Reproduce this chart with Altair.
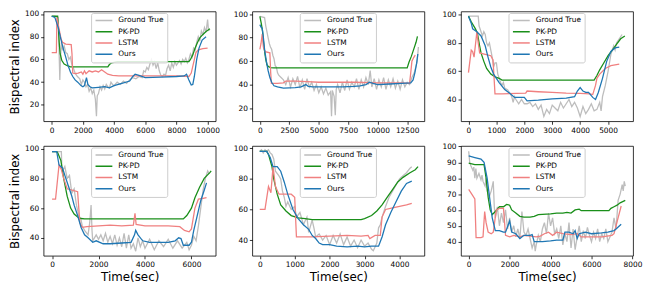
import altair as alt
import pandas as pd

NAMES = ["Ground True", "PK-PD", "LSTM", "Ours"]
COLORS = ["#bdbdbd", "#1a8f1a", "#f08080", "#1f77b4"]

# ---------------- panel 1 ----------------
P1_GT = [(0,98),(200,98),(400,97),(450,80),(520,42),(560,60),(620,75),(700,68),(800,72),(900,66),(1000,65),(1100,60),(1200,62),(1300,55),(1400,52),(1500,48),(1650,45),(1800,43),(1900,38),(2000,42),(2100,40),(2200,36),(2300,38),(2400,32),(2500,35),(2600,30),(2700,33),(2800,25),(2870,10),(2920,28),(3000,30),(3100,36),(3200,33),(3300,37),(3400,34),(3500,38),(3600,36),(3700,35),(3800,40),(3900,38),(4000,37),(4200,40),(4400,38),(4600,41),(4800,39),(5000,42),(5200,44),(5400,43),(5600,45),(5800,44),(5900,50),(6000,49),(6100,53),(6200,51),(6300,56),(6400,60),(6500,55),(6600,58),(6700,52),(6800,57),(6900,50),(7000,46),(7100,45),(7200,47),(7300,46),(7400,52),(7500,55),(7600,50),(7700,57),(7800,53),(7900,58),(8000,55),(8100,57),(8200,59),(8300,56),(8400,60),(8500,58),(8600,61),(8700,57),(8800,60),(8900,65),(9000,62),(9100,70),(9200,68),(9300,75),(9400,80),(9500,76),(9600,85),(9700,82),(9800,88),(9900,84),(10000,95),(10050,87),(10100,85)]
P1_PK = [(0,98),(380,98),(420,90),(480,75),(540,65),(650,59),(800,56),(1000,54.5),(1200,53.5),(3600,53.5),(3700,55.5),(3850,57),(4200,58),(8800,58),(8900,60),(9050,64),(9200,70),(9350,75),(9500,79),(9700,82),(9900,84.5),(10150,87)]
P1_LSTM = [(0,66),(300,66),(330,97),(400,92),(500,85),(600,78),(700,75),(900,73.5),(1250,73),(1300,65),(1350,48),(1500,47.5),(1700,48),(1900,49),(2000,47),(2100,50),(2200,47.5),(2400,50),(2600,49),(2800,50),(3000,49),(3200,51),(3400,49),(3600,47),(3900,46),(4300,45.5),(6000,45.5),(8000,45.5),(8800,45),(8950,48),(9100,57),(9250,66),(9400,68.5),(9700,69.5),(10000,70)]
P1_OURS = [(0,98),(200,97),(420,88),(550,80),(730,70),(900,62),(1040,55),(1200,49),(1350,45),(1500,42),(1670,40),(1875,37),(2000,36),(2100,37),(2230,44),(2320,38),(2450,36),(2600,35),(3000,35.5),(3400,36),(3700,35),(4000,37),(4500,39),(5000,41),(5200,45),(5350,47),(5600,46),(6000,44),(7000,44.5),(8000,45),(8500,45.5),(8650,47),(8800,42),(8950,37.5),(9050,38),(9150,45),(9300,60),(9450,70),(9650,77),(9900,80)]

# ---------------- panel 2 ----------------
P2_GT = [(0,98),(400,97),(500,90),(600,85),(700,80),(800,75),(900,72),(1000,70),(1100,65),(1200,62),(1300,56),(1400,55),(1500,50),(1600,48),(1800,46),(2000,44),(2200,40),(2400,46),(2600,38),(2800,45),(3000,40),(3200,47),(3400,37),(3600,44),(3800,36),(4000,45),(4200,38),(4400,42),(4600,35),(4800,40),(5000,33),(5200,38),(5400,32),(5600,37),(5800,31),(6000,34),(6080,13),(6150,35),(6300,30),(6400,14),(6480,36),(6600,40),(6800,33),(7000,42),(7200,35),(7400,44),(7600,36),(7800,42),(8000,38),(8200,45),(8400,36),(8600,44),(8800,38),(9000,46),(9200,40),(9360,52),(9500,38),(9700,45),(9900,36),(10100,44),(10300,38),(10500,46),(10700,36),(10900,44),(11100,38),(11300,45),(11500,37),(11700,43),(11900,36),(12100,44),(12300,38),(12500,42),(12700,40),(12900,46),(13100,50),(13250,56),(13350,60),(13450,72)]
P2_PK = [(0,98),(120,92),(220,86),(350,72),(490,62),(600,57),(710,55.5),(900,54.5),(1200,54.2),(12500,54.2),(12650,59),(12850,64),(13050,70),(13250,76),(13370,81)]
P2_LSTM = [(0,70),(100,75),(200,83),(300,72),(450,68),(850,67),(920,50),(980,41),(1500,41),(2000,41.5),(2200,43),(3000,43),(4000,42.5),(5000,42),(8000,42),(10000,41.5),(12000,41.5),(12700,41),(12800,50),(12900,60),(13050,63),(13180,65)]
P2_OURS = [(0,91),(100,89),(200,88),(300,80),(400,70),(550,60),(700,52),(850,46),(1000,42),(1200,39),(1500,38),(2000,37),(3000,37.5),(3500,38),(3900,40),(4100,38.5),(4500,38),(6000,38),(7000,38),(8000,38.5),(8500,39),(9000,40),(9300,42),(9600,41),(10000,40),(11000,40.5),(12000,41),(12800,41.5),(13000,44),(13150,50),(13300,58),(13400,66)]

# ---------------- panel 3 ----------------
P3_GT = [(0,99),(350,99),(380,92),(450,88),(500,85),(550,88),(600,86),(650,80),(700,78),(750,80),(800,75),(850,70),(900,63),(950,66),(1000,66),(1050,58),(1100,55),(1150,52),(1200,50),(1250,52),(1300,48),(1400,47),(1500,44),(1550,42),(1600,38),(1650,42),(1700,40),(1800,37),(1900,40),(2000,37),(2100,37),(2200,38),(2300,35),(2400,37),(2500,33),(2600,36),(2700,28),(2800,33),(2900,30),(3000,36),(3100,34),(3200,32),(3300,38),(3400,34),(3500,37),(3600,40),(3700,35),(3800,38),(3900,34),(4000,28),(4100,35),(4200,30),(4300,33),(4400,37),(4500,32),(4600,33),(4700,38),(4750,32),(4800,42),(4900,50),(5000,60),(5100,72),(5200,78),(5250,75),(5300,80),(5400,83),(5500,86)]
P3_PK = [(0,99),(100,95),(250,90),(320,87),(400,78),(450,73),(550,67),(650,62),(800,58),(950,56),(1100,55),(1200,53.7),(4500,53.7),(4600,57),(4700,61),(4850,66),(5000,71),(5150,75),(5300,79),(5450,83),(5600,85)]
P3_LSTM = [(0,59),(100,75),(150,74),(200,70),(280,84),(300,88),(350,80),(400,73),(600,72),(800,71),(880,68),(950,44),(1200,44),(2050,44.5),(2100,46),(2500,45.5),(3000,45),(3500,44.5),(4000,44.3),(4350,44),(4450,43.5),(4550,50),(4600,55),(4700,58),(4900,62),(5100,64),(5400,65)]
P3_OURS = [(0,99),(100,94),(150,90),(300,88),(450,85),(600,78),(700,70),(800,63),(900,58),(1100,52),(1300,47),(1500,44),(1650,41.5),(2000,41.5),(2100,39),(2500,39.5),(3000,40.5),(3500,41),(3800,42),(3900,46),(4000,48.5),(4100,46),(4200,45),(4300,45),(4450,41.5),(4550,40),(4650,45),(4800,55),(4950,67),(5100,74),(5250,76.5),(5400,77)]

# ---------------- panel 4 ----------------
P4_GT = [(0,98),(400,98),(420,88),(450,85),(550,88),(650,80),(750,82),(850,70),(950,73),(1050,62),(1150,55),(1250,52),(1300,48),(1400,45),(1550,42),(1620,50),(1680,62),(1720,45),(1750,38),(1900,42),(2000,39),(2100,42),(2200,38),(2300,43),(2400,37),(2500,41),(2600,36),(2700,42),(2800,35),(2900,40),(3000,34),(3100,43),(3200,33),(3300,42),(3400,33),(3500,36),(3600,31),(3700,40),(3800,34),(3900,38),(4000,33),(4200,39),(4400,32),(4600,38),(4800,34),(5000,39),(5200,33),(5400,38),(5600,33),(5800,37),(5900,32),(6000,35),(6100,41),(6200,38),(6300,48),(6400,60),(6500,72),(6600,80),(6700,85),(6770,83)]
P4_PK = [(0,98),(200,98),(250,97),(380,92),(500,80),(650,68),(800,60),(950,56),(1100,54),(1250,53),(1400,52.7),(5650,52.7),(5800,55),(6000,60),(6150,67),(6350,74),(6550,80),(6800,84),(6850,85)]
P4_LSTM = [(0,66),(150,66),(300,89),(400,86),(500,80),(650,73),(900,72),(1100,71),(1150,60),(1200,50),(1300,47),(1500,47.5),(2000,48),(2500,48.5),(3000,48),(3500,48.5),(3570,56.5),(3620,49),(4000,48),(5000,48),(5500,47.5),(5700,45),(5900,44),(6000,46),(6150,60),(6300,66),(6500,66.5),(6650,67)]
P4_OURS = [(0,98),(200,98),(300,89),(450,87),(550,82),(700,75),(850,68),(950,62),(1100,55),(1250,47),(1400,42),(1550,40),(1750,37),(1900,38),(2200,36),(2500,36),(3000,36.5),(3400,37),(3550,42),(3600,45),(3700,42),(3900,38),(4200,37),(5000,37),(5300,38),(5450,40),(5550,39.5),(5650,35),(5900,35),(6000,37),(6100,45),(6250,55),(6400,65),(6550,72),(6650,77)]

# ---------------- panel 5 ----------------
P5_GT = [(0,98),(50,99),(100,97),(150,99),(200,98),(250,99),(300,97),(350,96),(400,93),(450,85),(550,82),(600,80),(650,72),(700,68),(750,62),(800,65),(900,60),(1000,62),(1050,55),(1150,58),(1250,50),(1350,55),(1400,45),(1500,53),(1550,48),(1600,42),(1700,44),(1800,40),(1900,43),(2000,37),(2100,43),(2200,38),(2300,44),(2400,37),(2500,42),(2600,36),(2700,40),(2800,35),(2900,40),(3000,36),(3100,38),(3200,34),(3250,33),(3350,38),(3400,48),(3450,50),(3500,55),(3600,62),(3700,68),(3800,72),(3900,76),(4000,80),(4100,82),(4200,84),(4300,87),(4350,88)]
P5_PK = [(0,98),(200,98),(250,96),(300,92),(350,88),(400,80),(500,70),(600,63),(750,59),(900,56),(1100,54.5),(1300,54),(1500,53.4),(2900,53.4),(3000,54),(3200,56),(3350,59),(3500,63),(3650,68),(3800,73),(3950,78),(4100,81),(4300,84),(4450,86),(4530,88)]
P5_LSTM = [(0,60),(150,60),(250,75),(320,71),(380,88),(450,75),(550,70),(900,70),(1000,68),(1050,42),(1500,42),(2000,42.5),(2500,43),(2900,42.5),(3100,43),(3150,41),(3300,43),(3450,43),(3500,55),(3600,60),(3800,61),(4000,62),(4200,63),(4350,64)]
P5_OURS = [(0,98),(200,98),(300,94),(380,88),(500,88),(600,85),(700,78),(800,70),(950,60),(1100,54),(1250,50),(1400,47),(1500,43),(1600,41),(1700,38),(1800,37),(2000,37),(2200,36),(2500,35.5),(2800,36),(3000,35.5),(3200,36),(3400,36),(3500,42),(3600,50),(3750,58),(3900,65),(4050,72),(4200,77),(4350,78.5)]

# ---------------- panel 6 ----------------
P6_GT = [(0,97),(50,90),(100,88),(200,85),(250,87),(300,80),(350,86),(400,80),(500,83),(600,79),(650,82),(700,78),(800,75),(850,80),(900,72),(1000,68),(1100,72),(1200,78),(1250,62),(1300,55),(1400,62),(1500,50),(1600,58),(1700,52),(1800,60),(1900,48),(2000,55),(2100,46),(2200,50),(2300,43),(2400,48),(2500,42),(2600,59),(2700,46),(2800,44),(2900,48),(3000,42),(3100,36),(3200,40),(3250,34),(3300,38),(3400,44),(3500,40),(3600,48),(3700,52),(3800,45),(3900,58),(4000,50),(4100,55),(4200,45),(4300,48),(4400,42),(4500,50),(4600,38),(4700,45),(4800,40),(4900,52),(5000,36),(5100,48),(5200,35),(5300,43),(5400,50),(5500,40),(5600,47),(5700,42),(5800,49),(5900,44),(6000,40),(6100,46),(6200,42),(6300,48),(6400,40),(6500,45),(6600,42),(6700,48),(6800,40),(6900,43),(7000,46),(7100,55),(7200,48),(7300,66),(7400,70),(7500,76),(7550,72),(7600,78),(7650,75)]
P6_PK = [(0,89.5),(300,88.5),(750,88.5),(850,80),(950,68),(1050,60),(1150,57),(1300,59),(1500,62),(1700,62),(1850,63.5),(2000,63),(2100,60),(2300,58),(2500,56),(2700,55.5),(3000,55.5),(3200,56),(3400,57),(4000,57.5),(4300,58),(4600,58),(4800,58.5),(5000,58),(5200,60),(5400,60.5),(5500,59.5),(6000,59.5),(6850,59.5),(6950,61),(7100,62),(7250,63),(7400,64.5),(7650,66)]
P6_LSTM = [(0,73),(150,70),(300,67),(360,42.5),(600,42.5),(700,43),(780,59),(850,52),(950,46),(1100,45),(1200,46),(1350,60),(1500,61),(1700,61),(1800,44),(2000,43),(2200,44),(2500,43),(2700,44),(3000,43.5),(3300,43),(3500,43.5),(3700,45),(3900,46),(4100,44),(4300,46),(4600,45),(5000,44.5),(5300,45),(5500,43),(6000,43),(6500,43),(7000,44),(7100,45),(7300,55),(7450,62.5)]
P6_OURS = [(0,94),(300,93),(600,92),(750,90),(900,80),(1050,65),(1150,55),(1300,47),(1500,47),(1700,46),(1800,46),(2000,53),(2100,46),(2300,45),(2500,42),(2700,44),(3000,44),(3100,44.5),(3200,40),(3600,40),(4000,40.5),(4300,41),(4600,41),(4700,46),(4900,46),(5100,45),(5200,47),(5300,42),(5400,45),(5700,46),(6000,45),(6500,45.5),(6800,46),(7100,47),(7200,48),(7450,51)]

# axis domains / tick values per panel
X_DOMAINS = [[-520, 10520], [-640, 13960], [-267, 5896], [-364, 7045], [-213, 4712], [-376, 8033]]
X_TICKS = [[0, 2000, 4000, 6000, 8000, 10000], [0, 2500, 5000, 7500, 10000, 12500],
           [0, 1000, 2000, 3000, 4000, 5000], [0, 2000, 4000, 6000],
           [0, 1000, 2000, 3000, 4000], [0, 2000, 4000, 6000, 8000]]
Y_DOMAINS = [[5.6, 102.2], [8.8, 102.2], [24.6, 102.3], [27.9, 101.8], [29.7, 101.5], [31.1, 100.3]]
Y_TICKS = [[20, 40, 60, 80, 100], [20, 40, 60, 80, 100], [40, 60, 80, 100],
           [40, 60, 80, 100], [40, 60, 80, 100], [40, 50, 60, 70, 80, 90, 100]]

PANELS = [
    [P1_GT, P1_PK, P1_LSTM, P1_OURS],
    [P2_GT, P2_PK, P2_LSTM, P2_OURS],
    [P3_GT, P3_PK, P3_LSTM, P3_OURS],
    [P4_GT, P4_PK, P4_LSTM, P4_OURS],
    [P5_GT, P5_PK, P5_LSTM, P5_OURS],
    [P6_GT, P6_PK, P6_LSTM, P6_OURS],
]

W = 174
H = 111
LEG_W = 78


def make_panel(k):
    rows = []
    for name, pts in zip(NAMES, PANELS[k]):
        for i, (t, v) in enumerate(pts):
            rows.append({"series": name, "t": t, "v": v, "i": i})
    df = pd.DataFrame(rows)
    col = k % 3
    row = k // 3
    x_axis = alt.Axis(values=X_TICKS[k], format="d",
                      title="Time(sec)" if row == 1 else None)
    y_axis = alt.Axis(values=Y_TICKS[k], format="d",
                      title="Bispectral index" if col == 0 else None)
    layers = []
    for name in NAMES:
        layers.append(
            alt.Chart(df)
            .transform_filter(alt.datum.series == name)
            .mark_line(strokeWidth=1.3, clip=True)
            .encode(
                x=alt.X("t:Q", scale=alt.Scale(domain=X_DOMAINS[k], nice=False, zero=False), axis=x_axis),
                y=alt.Y("v:Q", scale=alt.Scale(domain=Y_DOMAINS[k], nice=False, zero=False), axis=y_axis),
                color=alt.Color(
                    "series:N",
                    scale=alt.Scale(domain=NAMES, range=COLORS),
                    legend=alt.Legend(
                        title=None, orient="none",
                        legendX=(W - LEG_W) / 2, legendY=1.5,
                        symbolType="stroke", symbolSize=289, symbolStrokeWidth=1.5,
                        labelFontSize=7.5, labelFont="DejaVu Sans", labelColor="black",
                        labelOffset=5, clipHeight=8, rowPadding=3.4, padding=3.5,
                        strokeColor="#cccccc", fillColor="rgba(255,255,255,0.85)",
                        cornerRadius=2,
                    ),
                ),
                order="i:Q",
            )
        )
    return alt.layer(*layers).properties(width=W, height=H)


chart = (
    alt.concat(*[make_panel(k) for k in range(6)], columns=3,
               spacing=alt.RowColnumber(row=25, column=37), bounds="flush", padding=0)
    .resolve_scale(x="independent", y="independent", color="independent")
    .resolve_legend(color="independent")
    .configure(font="DejaVu Sans")
    .configure_view(stroke="black", strokeWidth=0.8)
    .configure_axis(
        labelFontSize=7.5, titleFontSize=12, titleFontWeight="normal",
        labelColor="black", titleColor="black", tickColor="black",
        tickSize=3, tickWidth=0.8, domain=False, grid=False,
        labelPadding=2, titlePadding=3, labelFlush=False, labelOverlap=False,
        labelFont="DejaVu Sans", titleFont="DejaVu Sans",
    )
)

chart.save("out.html", embed_options={"renderer": "svg", "actions": False})
